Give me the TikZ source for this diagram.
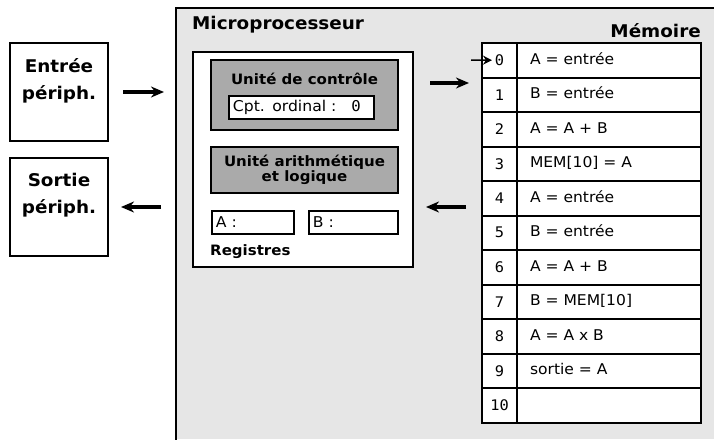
\documentclass[tikz,border=0pt]{standalone}
\usepackage{fontspec}
\setmainfont{DejaVu Sans}[FakeStretch=1.05]
\setmonofont{DejaVu Sans Mono}[FakeStretch=1.05]
\usetikzlibrary{positioning,arrows.meta}
\definecolor{panelgray}{HTML}{E6E6E6}
\definecolor{unitgray}{HTML}{AAAAAA}
\tikzset{
  frame/.style={line width=2pt},
  periph/.style={
    draw, line width=2pt, fill=white,
    minimum width=98pt, minimum height=98pt,
    inner sep=0pt, outer sep=0pt
  },
  bigtitle/.style={
    font=\fontsize{17.5}{27}\selectfont\bfseries,
    align=center, inner sep=0pt
  },
  unit/.style={
    draw, line width=2pt, fill=unitgray,
    align=center, inner sep=0pt, outer sep=0pt,
    font=\fontsize{14.3}{13.5}\selectfont\bfseries
  },
  unittitle/.style={font=\fontsize{14.3}{13.5}\selectfont\bfseries, inner sep=0pt},
  reg/.style={
    draw, line width=1.8pt, fill=white,
    minimum height=23pt, align=left, inner xsep=4pt, inner ysep=0pt,
    font=\fontsize{14.9}{16}\selectfont
  },
  idx/.style={
    draw, line width=2pt, fill=white,
    minimum width=35pt, minimum height=34.5pt,
    inner sep=0pt, outer sep=0pt,
    font=\fontsize{14.6}{15}\selectfont\ttfamily
  },
  instr/.style={
    draw, line width=2pt, fill=white,
    minimum height=34.5pt, text width=158pt,
    inner xsep=13pt, inner ysep=0pt, outer sep=0pt,
    text height=10pt, text depth=2pt, align=left,
    font=\fontsize{14.8}{16}\selectfont
  },
  bigarrow/.style={-{Stealth[length=13pt,width=11pt]}, line width=3.2pt},
  smallarrow/.style={-{Stealth[length=9pt,width=9pt]}, line width=1.5pt}
}

\begin{document}
\begin{tikzpicture}[x=1pt, y=-1pt]
  \useasboundingbox (0,0) rectangle (714,439);

  % processor panel
  \fill[panelgray] (176,8) rectangle (714,439);
  \draw[frame] (176,440) -- (176,8) -- (715,8);
  \node[bigtitle, anchor=base west] (ptitle) at (192,29) {Microprocesseur};
  \node[bigtitle, anchor=base east] (mtitle) at (701,37) {Mémoire};

  % peripherals
  \node[periph, anchor=north west] (entree) at (10,43) {};
  \node[bigtitle, below=15pt of entree.north] (entreetxt) {Entrée\\périph.};
  \node[periph, anchor=north west] (sortie) at (10,158) {};
  \node[bigtitle, below=15pt of sortie.north] (sortietxt) {Sortie\\périph.};

  % cpu
  \node[periph, anchor=north west, minimum width=220pt, minimum height=215pt] (cpu) at (193,52) {};
  \node[unit, anchor=north west, minimum width=187pt, minimum height=70pt] (ctrl) at (211,60) {};
  \node[unittitle, anchor=base] (ctrltxt) at (304.5,84) {Unité de contrôle};
  \node[reg, anchor=north west, text width=137pt] (pc) at (228,95) {Cpt. ordinal :\hspace{15pt}\texttt{0}};
  \node[unit, anchor=north west, minimum width=187pt, minimum height=46pt] (alu) at (211,147) {Unité arithmétique\\et logique};
  \node[reg, anchor=north west, text width=74pt] (rega) at (211,210) {A :};
  \node[reg, anchor=north west, text width=81pt] (regb) at (308,210) {B :};
  \node[unittitle, anchor=base west] (regtxt) at (210,255) {Registres};

  % memory
  \node[idx, anchor=north west] (i0) at (482,43) {0};
  \node[instr, right=0pt of i0] (m0) {A = entrée};
  \node[idx, below=0pt of i0] (i1) {1};
  \node[instr, right=0pt of i1] (m1) {B = entrée};
  \node[idx, below=0pt of i1] (i2) {2};
  \node[instr, right=0pt of i2] (m2) {A = A + B};
  \node[idx, below=0pt of i2] (i3) {3};
  \node[instr, right=0pt of i3] (m3) {MEM[10] = A};
  \node[idx, below=0pt of i3] (i4) {4};
  \node[instr, right=0pt of i4] (m4) {A = entrée};
  \node[idx, below=0pt of i4] (i5) {5};
  \node[instr, right=0pt of i5] (m5) {B = entrée};
  \node[idx, below=0pt of i5] (i6) {6};
  \node[instr, right=0pt of i6] (m6) {A = A + B};
  \node[idx, below=0pt of i6] (i7) {7};
  \node[instr, right=0pt of i7] (m7) {B = MEM[10]};
  \node[idx, below=0pt of i7] (i8) {8};
  \node[instr, right=0pt of i8] (m8) {A = A x B};
  \node[idx, below=0pt of i8] (i9) {9};
  \node[instr, right=0pt of i9] (m9) {sortie = A};
  \node[idx, below=0pt of i9] (i10) {10};
  \node[instr, right=0pt of i10] (m10) {};

  % arrows
  \coordinate (inA) at (123,92);
  \coordinate (inB) at (164,92);
  \coordinate (outA) at (161,207);
  \coordinate (outB) at (121,207);
  \coordinate (readA) at (430,83);
  \coordinate (readB) at (469,83);
  \coordinate (writeA) at (466,207);
  \coordinate (writeB) at (426,207);
  \coordinate (ptr) at (471,60);
  \draw[bigarrow] (inA) -- (inB);
  \draw[bigarrow] (outA) -- (outB);
  \draw[bigarrow] (readA) -- (readB);
  \draw[bigarrow] (writeA) -- (writeB);
  \draw[smallarrow] (ptr) -- ([xshift=10pt]i0.west);
\end{tikzpicture}
\end{document}
